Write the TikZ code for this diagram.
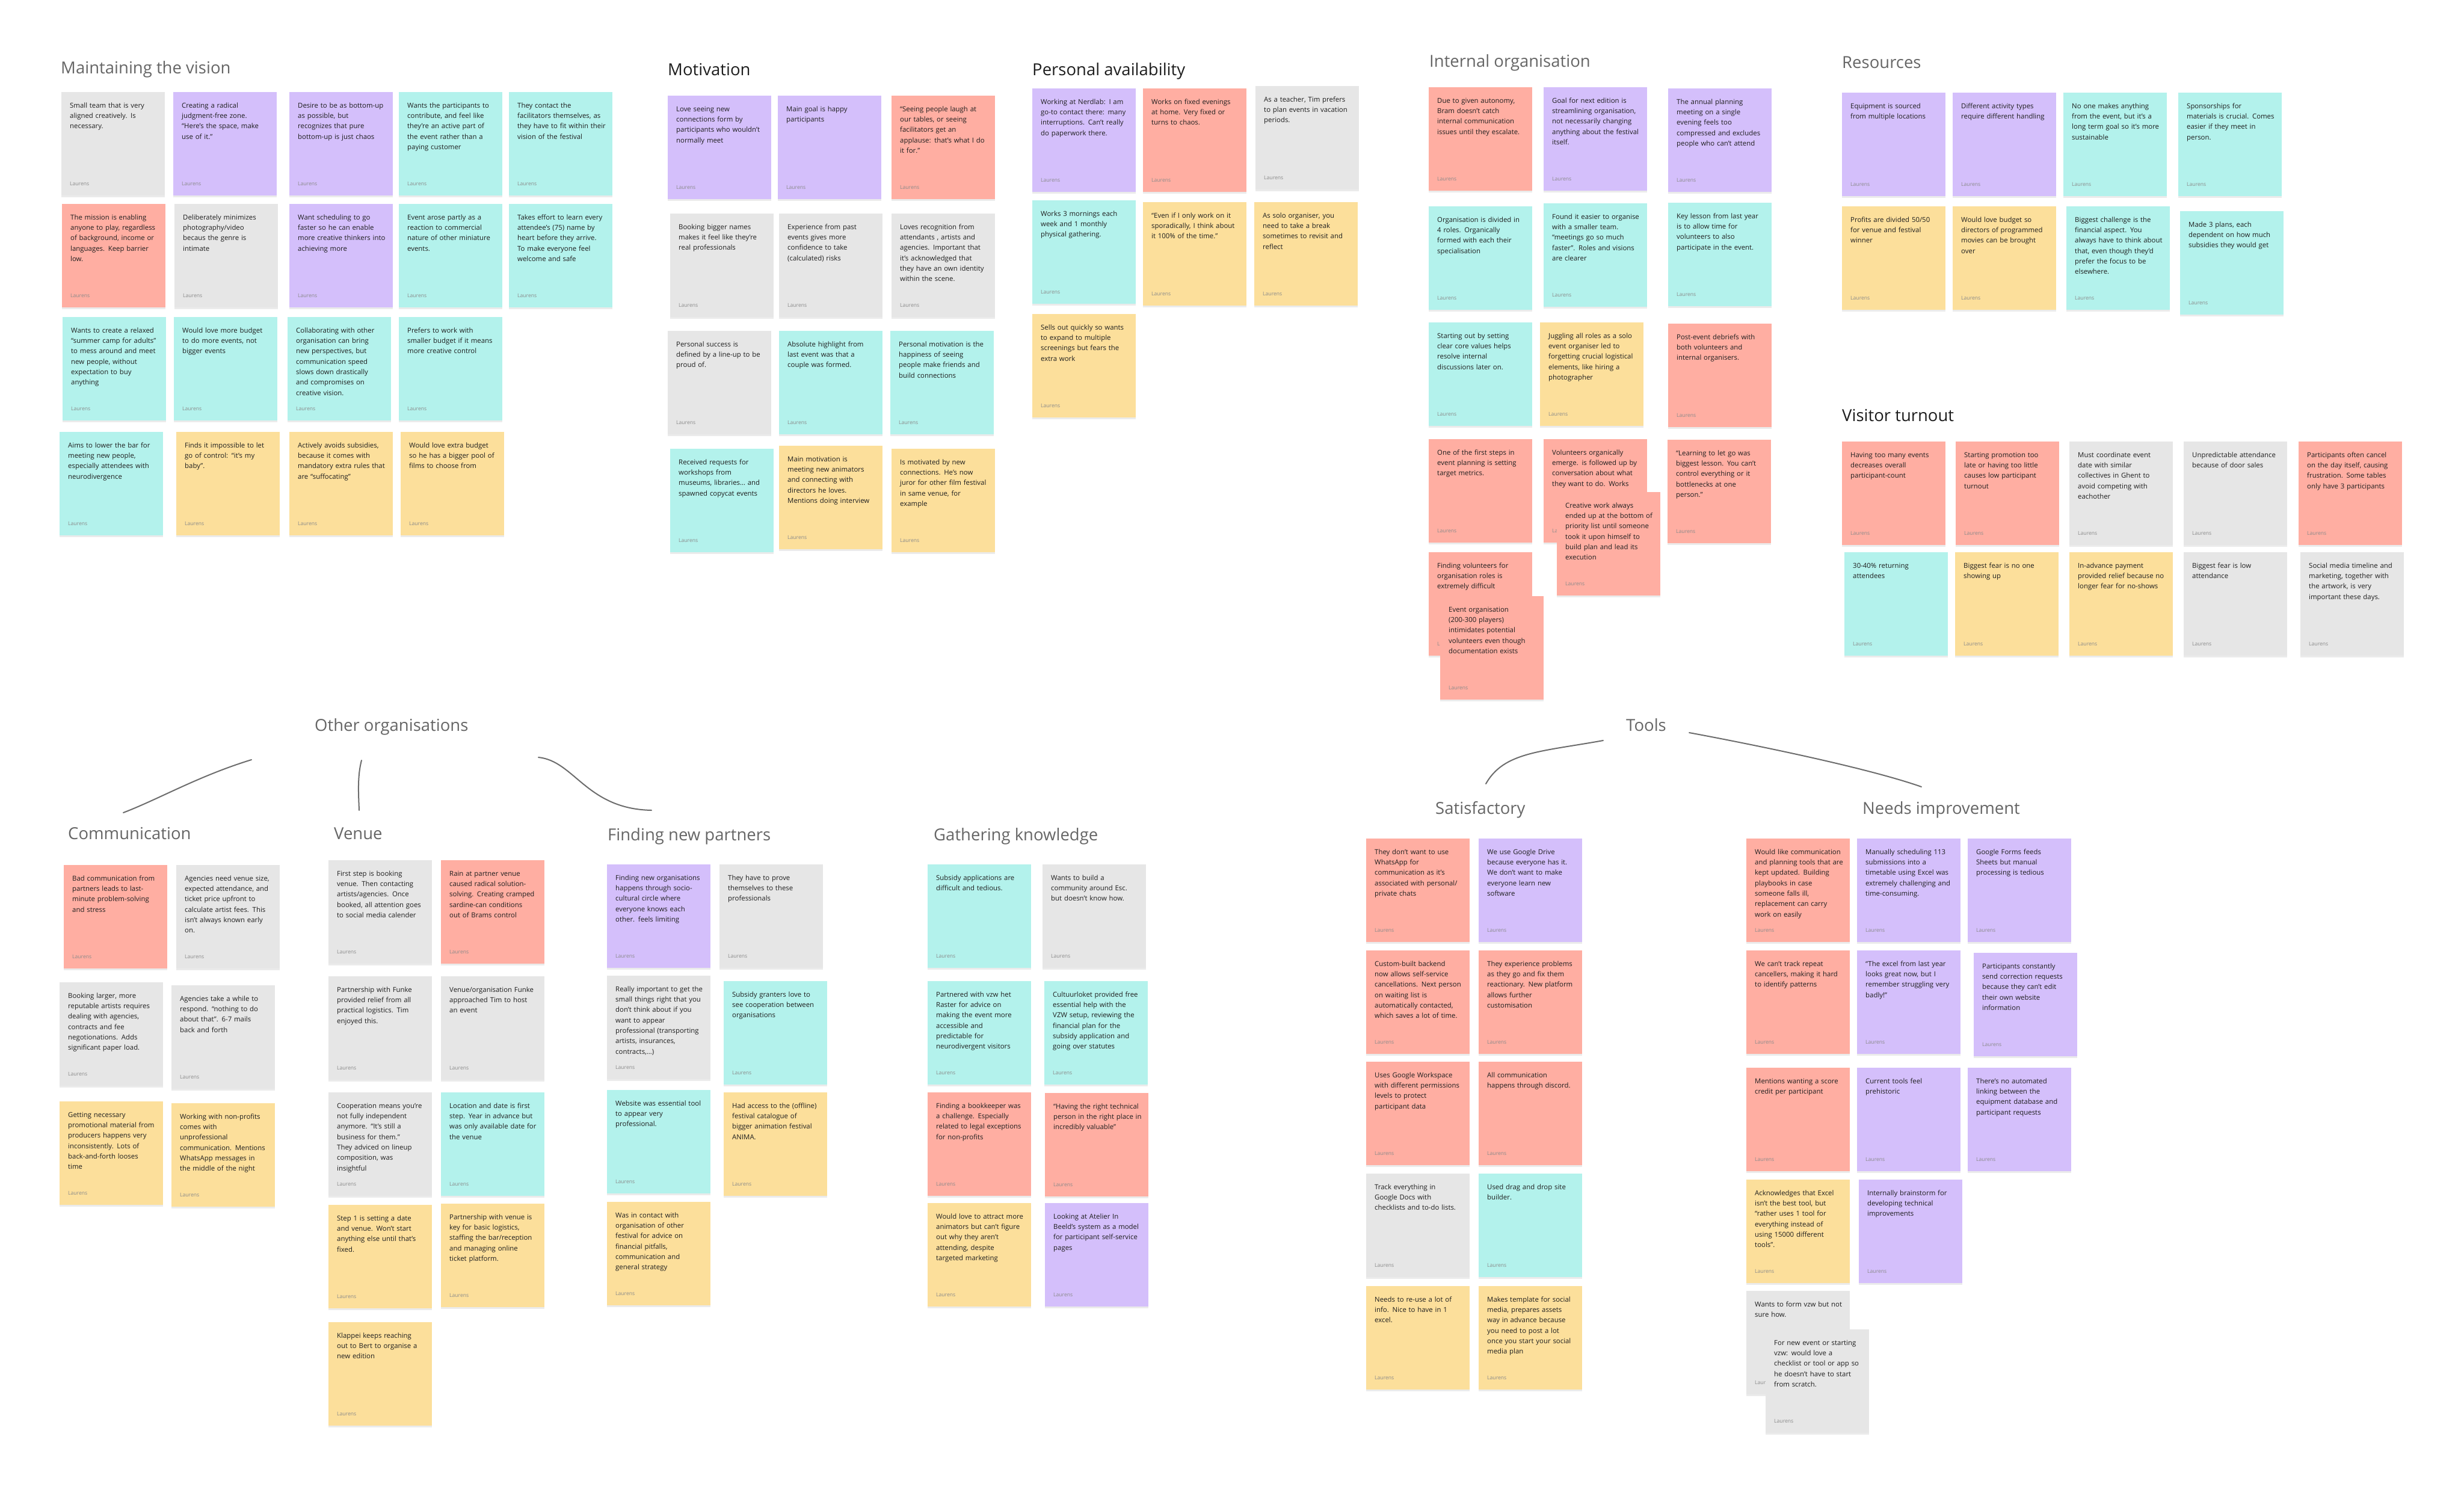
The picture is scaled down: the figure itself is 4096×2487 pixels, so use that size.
\documentclass[tikz,border=0pt]{standalone}
\usepackage{fontspec}
\setmainfont{Open Sans}
\usetikzlibrary{shadows}

\definecolor{notegray}{HTML}{E6E6E6}
\definecolor{notepurple}{HTML}{D4BFFB}
\definecolor{notecyan}{HTML}{B3F2EC}
\definecolor{notesalmon}{HTML}{FFAEA2}
\definecolor{noteyellow}{HTML}{FCDF9B}
\definecolor{inkdark}{HTML}{1E1E1E}
\definecolor{inkgray}{HTML}{666666}
\definecolor{signgray}{HTML}{8A8A8A}

\newcommand{\sticky}[5]{%
  \node[note, fill=#4] (#1) at (#2,#3) {};
  \node[notetext] (#1-t) at (#1.north west) {\strut #5};
  \node[sign] (#1-s) at (#1.south west) {Laurens};
}

\begin{document}
\begin{tikzpicture}[x=1pt,y=-1pt,
  note/.style={anchor=north west, minimum width=172pt, minimum height=172pt,
    inner sep=0pt, outer sep=0pt,
    drop shadow={shadow xshift=0pt, shadow yshift=-3pt, fill=black, opacity=0.08}},
  notetext/.style={anchor=north west, inner sep=0pt, xshift=14pt, yshift=-14pt,
    text width=158pt, align=left, text=inkdark,
    font=\fontsize{11.4}{17.3}\selectfont},
  sign/.style={anchor=base west, inner sep=0pt, xshift=14pt, yshift=17pt,
    text=signgray, font=\fontsize{8.6}{10}\selectfont},
  grouptitle/.style={anchor=base west, inner sep=0pt, text=inkgray,
    font=\fontsize{27.5}{32}\selectfont},
  darktitle/.style={grouptitle, text=inkdark},
  branch/.style={draw=gray!85!black, line width=2pt, line cap=round}]

\useasboundingbox (0,0) rectangle (4096,2487);
\fill[white] (0,0) rectangle (4096,2487);

\node[grouptitle] (mvtitle) at (101,122) {Maintaining the vision};
\sticky{mv1}{102}{153}{notegray}{Small team that is very\\aligned creatively. Is\\necessary.}
\sticky{mv2}{288}{153}{notepurple}{Creating a radical\\judgment-free zone.\\“Here’s the space, make\\use of it.”}
\sticky{mv3}{481}{153}{notepurple}{Desire to be as bottom-up\\as possible, but\\recognizes that pure\\bottom-up is just chaos}
\sticky{mv4}{663}{153}{notecyan}{Wants the participants to\\contribute, and feel like\\they’re an active part of\\the event rather than a\\paying customer}
\sticky{mv5}{846}{153}{notecyan}{They contact the\\facilitators themselves, as\\they have to fit within their\\vision of the festival}
\sticky{mv6}{103}{339}{notesalmon}{The mission is enabling\\anyone to play, regardless\\of background, income or\\languages. Keep barrier\\low.}
\sticky{mv7}{290}{339}{notegray}{Deliberately minimizes\\photography/video\\becaus the genre is\\intimate}
\sticky{mv8}{481}{339}{notepurple}{Want scheduling to go\\faster so he can enable\\more creative thinkers into\\achieving more}
\sticky{mv9}{663}{339}{notecyan}{Event arose partly as a\\reaction to commercial\\nature of other miniature\\events.}
\sticky{mv10}{846}{339}{notecyan}{Takes effort to learn every\\attendee’s (75) name by\\heart before they arrive.\\To make everyone feel\\welcome and safe}
\sticky{mv11}{104}{527}{notecyan}{Wants to create a relaxed\\“summer camp for adults”\\to mess around and meet\\new people, without\\expectation to buy\\anything}
\sticky{mv12}{289}{527}{notecyan}{Would love more budget\\to do more events, not\\bigger events}
\sticky{mv13}{478}{527}{notecyan}{Collaborating with other\\organisation can bring\\new perspectives, but\\communication speed\\slows down drastically\\and compromises on\\creative vision.}
\sticky{mv14}{663}{527}{notecyan}{Prefers to work with\\smaller budget if it means\\more creative control}
\sticky{mv15}{99}{718}{notecyan}{Aims to lower the bar for\\meeting new people,\\especially attendees with\\neurodivergence}
\sticky{mv16}{293}{718}{noteyellow}{Finds it impossible to let\\go of control: “it’s my\\baby”.}
\sticky{mv17}{481}{718}{noteyellow}{Actively avoids subsidies,\\because it comes with\\mandatory extra rules that\\are “suffocating”}
\sticky{mv18}{666}{718}{noteyellow}{Would love extra budget\\so he has a bigger pool of\\films to choose from}

\node[darktitle] (motitle) at (1110,125) {Motivation};
\sticky{mo1}{1110}{159}{notepurple}{Love seeing new\\connections form by\\participants who wouldn’t\\normally meet}
\sticky{mo2}{1293}{159}{notepurple}{Main goal is happy\\participants}
\sticky{mo3}{1482}{159}{notesalmon}{“Seeing people laugh at\\our tables, or seeing\\facilitators get an\\applause: that’s what I do\\it for.”}
\sticky{mo4}{1114}{355}{notegray}{Booking bigger names\\makes it feel like they’re\\real professionals}
\sticky{mo5}{1295}{355}{notegray}{Experience from past\\events gives more\\confidence to take\\(calculated) risks}
\sticky{mo6}{1482}{355}{notegray}{Loves recognition from\\attendants , artists and\\agencies. Important that\\it’s acknowledged that\\they have an own identity\\within the scene.}
\sticky{mo7}{1110}{550}{notegray}{Personal success is\\defined by a line-up to be\\proud of.}
\sticky{mo8}{1295}{550}{notecyan}{Absolute highlight from\\last event was that a\\couple was formed.}
\sticky{mo9}{1480}{550}{notecyan}{Personal motivation is the\\happiness of seeing\\people make friends and\\build connections}
\sticky{mo10}{1114}{746}{notecyan}{Received requests for\\workshops from\\museums, libraries… and\\spawned copycat events}
\sticky{mo11}{1295}{741}{noteyellow}{Main motivation is\\meeting new animators\\and connecting with\\directors he loves.\\Mentions doing interview}
\sticky{mo12}{1482}{746}{noteyellow}{Is motivated by new\\connections. He’s now\\juror for other film festival\\in same venue, for\\example}

\node[darktitle] (patitle) at (1716,125) {Personal availability};
\sticky{pa1}{1716}{147}{notepurple}{Working at Nerdlab: I am\\go-to contact there: many\\interruptions. Can’t really\\do paperwork there.}
\sticky{pa2}{1900}{147}{notesalmon}{Works on fixed evenings\\at home. Very fixed or\\turns to chaos.}
\sticky{pa3}{2087}{143}{notegray}{As a teacher, Tim prefers\\to plan events in vacation\\periods.}
\sticky{pa4}{1716}{333}{notecyan}{Works 3 mornings each\\week and 1 monthly\\physical gathering.}
\sticky{pa5}{1900}{336}{noteyellow}{“Even if I only work on it\\sporadically, I think about\\it 100\% of the time.”}
\sticky{pa6}{2085}{336}{noteyellow}{As solo organiser, you\\need to take a break\\sometimes to revisit and\\reflect}
\sticky{pa7}{1716}{522}{noteyellow}{Sells out quickly so wants\\to expand to multiple\\screenings but fears the\\extra work}

\node[grouptitle] (iotitle) at (2376,111) {Internal organisation};
\sticky{io1}{2375}{145}{notesalmon}{Due to given autonomy,\\Bram doesn’t catch\\internal communication\\issues until they escalate.}
\sticky{io2}{2566}{145}{notepurple}{Goal for next edition is\\streamlining organisation,\\not necessarily changing\\anything about the festival\\itself.}
\sticky{io3}{2773}{147}{notepurple}{The annual planning\\meeting on a single\\evening feels too\\compressed and excludes\\people who can’t attend}
\sticky{io4}{2375}{343}{notecyan}{Organisation is divided in\\4 roles. Organically\\formed with each their\\specialisation}
\sticky{io5}{2566}{338}{notecyan}{Found it easier to organise\\with a smaller team.\\“meetings go so much\\faster”. Roles and visions\\are clearer}
\sticky{io6}{2773}{337}{notecyan}{Key lesson from last year\\is to allow time for\\volunteers to also\\participate in the event.}
\sticky{io7}{2375}{536}{notecyan}{Starting out by setting\\clear core values helps\\resolve internal\\discussions later on.}
\sticky{io8}{2560}{536}{noteyellow}{Juggling all roles as a solo\\event organiser led to\\forgetting crucial logistical\\elements, like hiring a\\photographer}
\sticky{io9}{2773}{538}{notesalmon}{Post-event debriefs with\\both volunteers and\\internal organisers.}
\sticky{io10}{2375}{730}{notesalmon}{One of the first steps in\\event planning is setting\\target metrics.}
\sticky{io11}{2566}{730}{notesalmon}{Volunteers organically\\emerge. is followed up by\\conversation about what\\they want to do. Works}
\sticky{io12}{2588}{818}{notesalmon}{Creative work always\\ended up at the bottom of\\priority list until someone\\took it upon himself to\\build plan and lead its\\execution}
\sticky{io13}{2772}{731}{notesalmon}{“Learning to let go was\\biggest lesson. You can’t\\control everything or it\\bottlenecks at one\\person.”}
\sticky{io14}{2375}{918}{notesalmon}{Finding volunteers for\\organisation roles is\\extremely difficult}
\sticky{io15}{2394}{991}{notesalmon}{Event organisation\\(200-300 players)\\intimidates potential\\volunteers even though\\documentation exists}

\node[grouptitle] (rstitle) at (3062,113) {Resources};
\sticky{rs1}{3062}{154}{notepurple}{Equipment is sourced\\from multiple locations}
\sticky{rs2}{3246}{154}{notepurple}{Different activity types\\require different handling}
\sticky{rs3}{3430}{154}{notecyan}{No one makes anything\\from the event, but it’s a\\long term goal so it’s more\\sustainable}
\sticky{rs4}{3621}{154}{notecyan}{Sponsorships for\\materials is crucial. Comes\\easier if they meet in\\person.}
\sticky{rs5}{3062}{343}{noteyellow}{Profits are divided 50/50\\for venue and festival\\winner}
\sticky{rs6}{3246}{343}{noteyellow}{Would love budget so\\directors of programmed\\movies can be brought\\over}
\sticky{rs7}{3435}{343}{notecyan}{Biggest challenge is the\\financial aspect. You\\always have to think about\\that, even though they’d\\prefer the focus to be\\elsewhere.}
\sticky{rs8}{3624}{351}{notecyan}{Made 3 plans, each\\dependent on how much\\subsidies they would get}

\node[darktitle] (vttitle) at (3062,700) {Visitor turnout};
\sticky{vt1}{3062}{734}{notesalmon}{Having too many events\\decreases overall\\participant-count}
\sticky{vt2}{3251}{734}{notesalmon}{Starting promotion too\\late or having too little\\causes low participant\\turnout}
\sticky{vt3}{3440}{734}{notegray}{Must coordinate event\\date with similar\\collectives in Ghent to\\avoid competing with\\eachother}
\sticky{vt4}{3630}{734}{notegray}{Unpredictable attendance\\because of door sales}
\sticky{vt5}{3821}{734}{notesalmon}{Participants often cancel\\on the day itself, causing\\frustration. Some tables\\only have 3 participants}
\sticky{vt6}{3066}{918}{notecyan}{30-40\% returning\\attendees}
\sticky{vt7}{3250}{918}{noteyellow}{Biggest fear is no one\\showing up}
\sticky{vt8}{3440}{918}{noteyellow}{In-advance payment\\provided relief because no\\longer fear for no-shows}
\sticky{vt9}{3630}{918}{notegray}{Biggest fear is low\\attendance}
\sticky{vt10}{3824}{918}{notegray}{Social media timeline and\\marketing, together with\\the artwork, is very\\important these days.}

\node[grouptitle] (ootitle) at (523,1215) {Other organisations};
\node[grouptitle] (cmtitle) at (113,1395) {Communication};
\node[grouptitle] (vntitle) at (555,1395) {Venue};
\node[grouptitle] (fptitle) at (1010,1397) {Finding new partners};
\node[grouptitle] (gktitle) at (1552,1397) {Gathering knowledge};
\coordinate (oo-cm) at (418,1263);
\coordinate (cm-in) at (205,1351);
\coordinate (oo-vn) at (601,1264);
\coordinate (vn-in) at (597,1347);
\coordinate (oo-fp) at (895,1259);
\coordinate (fp-in) at (1083,1347);
\draw[branch] (oo-cm) .. controls (330,1290) and (265,1328) .. (cm-in);
\draw[branch] (oo-vn) .. controls (594,1290) and (596,1320) .. (vn-in);
\draw[branch] (oo-fp) .. controls (955,1265) and (975,1345) .. (fp-in);

\sticky{cm1}{106}{1438}{notesalmon}{Bad communication from\\partners leads to last-\\minute problem-solving\\and stress}
\sticky{cm2}{293}{1438}{notegray}{Agencies need venue size,\\expected attendance, and\\ticket price upfront to\\calculate artist fees. This\\isn’t always known early\\on.}
\sticky{cm3}{99}{1633}{notegray}{Booking larger, more\\reputable artists requires\\dealing with agencies,\\contracts and fee\\negotionations. Adds\\significant paper load.}
\sticky{cm4}{285}{1638}{notegray}{Agencies take a while to\\respond. “nothing to do\\about that”. 6-7 mails\\back and forth}
\sticky{cm5}{99}{1831}{noteyellow}{Getting necessary\\promotional material from\\producers happens very\\inconsistently. Lots of\\back-and-forth looses\\time}
\sticky{cm6}{285}{1834}{noteyellow}{Working with non-profits\\comes with\\unprofessional\\communication. Mentions\\WhatsApp messages in\\the middle of the night}

\sticky{vn1}{546}{1430}{notegray}{First step is booking\\venue. Then contacting\\artists/agencies. Once\\booked, all attention goes\\to social media calender}
\sticky{vn2}{733}{1430}{notesalmon}{Rain at partner venue\\caused radical solution-\\solving. Creating cramped\\sardine-can conditions\\out of Brams control}
\sticky{vn3}{546}{1623}{notegray}{Partnership with Funke\\provided relief from all\\practical logistics. Tim\\enjoyed this.}
\sticky{vn4}{733}{1623}{notegray}{Venue/organisation Funke\\approached Tim to host\\an event}
\sticky{vn5}{546}{1816}{notegray}{Cooperation means you’re\\not fully independent\\anymore. “It’s still a\\business for them.”\\They adviced on lineup\\composition, was\\insightful}
\sticky{vn6}{733}{1816}{notecyan}{Location and date is first\\step. Year in advance but\\was only available date for\\the venue}
\sticky{vn7}{546}{2003}{noteyellow}{Step 1 is setting a date\\and venue. Won’t start\\anything else until that’s\\fixed.}
\sticky{vn8}{733}{2001}{noteyellow}{Partnership with venue is\\key for basic logistics,\\staffing the bar/reception\\and managing online\\ticket platform.}
\sticky{vn9}{546}{2198}{noteyellow}{Klappei keeps reaching\\out to Bert to organise a\\new edition}

\sticky{fp1}{1009}{1437}{notepurple}{Finding new organisations\\happens through socio-\\cultural circle where\\everyone knows each\\other. feels limiting}
\sticky{fp2}{1196}{1437}{notegray}{They have to prove\\themselves to these\\professionals}
\sticky{fp3}{1009}{1622}{notegray}{Really important to get the\\small things right that you\\don’t think about if you\\want to appear\\professional (transporting\\artists, insurances,\\contracts,…)}
\sticky{fp4}{1203}{1631}{notecyan}{Subsidy granters love to\\see cooperation between\\organisations}
\sticky{fp5}{1009}{1812}{notecyan}{Website was essential tool\\to appear very\\professional.}
\sticky{fp6}{1203}{1816}{noteyellow}{Had access to the (offline)\\festival catalogue of\\bigger animation festival\\ANIMA.}
\sticky{fp7}{1009}{1998}{noteyellow}{Was in contact with\\organisation of other\\festival for advice on\\financial pitfalls,\\communication and\\general strategy}

\sticky{gk1}{1542}{1437}{notecyan}{Subsidy applications are\\difficult and tedious.}
\sticky{gk2}{1733}{1437}{notegray}{Wants to build a\\community around Esc.\\but doesn’t know how.}
\sticky{gk3}{1542}{1631}{notecyan}{Partnered with vzw het\\Raster for advice on\\making the event more\\accessible and\\predictable for\\neurodivergent visitors}
\sticky{gk4}{1736}{1631}{notecyan}{Cultuurloket provided free\\essential help with the\\VZW setup, reviewing the\\financial plan for the\\subsidy application and\\going over statutes}
\sticky{gk5}{1542}{1816}{notesalmon}{Finding a bookkeeper was\\a challenge. Especially\\related to legal exceptions\\for non-profits}
\sticky{gk6}{1737}{1817}{notesalmon}{“Having the right technical\\person in the right place in\\incredibly valuable”}
\sticky{gk7}{1542}{2000}{noteyellow}{Would love to attract more\\animators but can’t figure\\out why they aren’t\\attending, despite\\targeted marketing}
\sticky{gk8}{1737}{2000}{notepurple}{Looking at Atelier In\\Beeld’s system as a model\\for participant self-service\\pages}

\node[grouptitle] (tltitle) at (2703,1215) {Tools};
\node[grouptitle] (sftitle) at (2386,1353) {Satisfactory};
\node[grouptitle] (nititle) at (3096,1353) {Needs improvement};
\coordinate (tl-sf) at (2665,1231);
\coordinate (sf-in) at (2470,1303);
\coordinate (tl-ni) at (2808,1218);
\coordinate (ni-in) at (3194,1308);
\draw[branch] (tl-sf) .. controls (2560,1250) and (2500,1250) .. (sf-in);
\draw[branch] (tl-ni) .. controls (2900,1235) and (3100,1275) .. (ni-in);

\sticky{sf1}{2271}{1394}{notesalmon}{They don’t want to use\\WhatsApp for\\communication as it’s\\associated with personal/\\private chats}
\sticky{sf2}{2458}{1394}{notepurple}{We use Google Drive\\because everyone has it.\\We don’t want to make\\everyone learn new\\software}
\sticky{sf3}{2271}{1580}{notesalmon}{Custom-built backend\\now allows self-service\\cancellations. Next person\\on waiting list is\\automatically contacted,\\which saves a lot of time.}
\sticky{sf4}{2458}{1580}{notesalmon}{They experience problems\\as they go and fix them\\reactionary. New platform\\allows further\\customisation}
\sticky{sf5}{2271}{1765}{notesalmon}{Uses Google Workspace\\with different permissions\\levels to protect\\participant data}
\sticky{sf6}{2458}{1765}{notesalmon}{All communication\\happens through discord.}
\sticky{sf7}{2271}{1951}{notegray}{Track everything in\\Google Docs with\\checklists and to-do lists.}
\sticky{sf8}{2458}{1951}{notecyan}{Used drag and drop site\\builder.}
\sticky{sf9}{2271}{2138}{noteyellow}{Needs to re-use a lot of\\info. Nice to have in 1\\excel.}
\sticky{sf10}{2458}{2138}{noteyellow}{Makes template for social\\media, prepares assets\\way in advance because\\you need to post a lot\\once you start your social\\media plan}

\sticky{ni1}{2903}{1394}{notesalmon}{Would like communication\\and planning tools that are\\kept updated. Building\\playbooks in case\\someone falls ill,\\replacement can carry\\work on easily}
\sticky{ni2}{3087}{1394}{notepurple}{Manually scheduling 113\\submissions into a\\timetable using Excel was\\extremely challenging and\\time-consuming.}
\sticky{ni3}{3271}{1394}{notepurple}{Google Forms feeds\\Sheets but manual\\processing is tedious}
\sticky{ni4}{2903}{1580}{notesalmon}{We can’t track repeat\\cancellers, making it hard\\to identify patterns}
\sticky{ni5}{3087}{1580}{notepurple}{“The excel from last year\\looks great now, but I\\remember struggling very\\badly!”}
\sticky{ni6}{3281}{1584}{notepurple}{Participants constantly\\send correction requests\\because they can’t edit\\their own website\\information}
\sticky{ni7}{2903}{1775}{notesalmon}{Mentions wanting a score\\credit per participant}
\sticky{ni8}{3087}{1775}{notepurple}{Current tools feel\\prehistoric}
\sticky{ni9}{3271}{1775}{notepurple}{There’s no automated\\linking between the\\equipment database and\\participant requests}
\sticky{ni10}{2903}{1961}{noteyellow}{Acknowledges that Excel\\isn’t the best tool, but\\“rather uses 1 tool for\\everything instead of\\using 15000 different\\tools”.}
\sticky{ni11}{3090}{1961}{notepurple}{Internally brainstorm for\\developing technical\\improvements}
\sticky{ni12}{2903}{2146}{notegray}{Wants to form vzw but not\\sure how.}
\sticky{ni13}{2935}{2210}{notegray}{For new event or starting\\vzw: would love a\\checklist or tool or app so\\he doesn’t have to start\\from scratch.}
\end{tikzpicture}
\end{document}
